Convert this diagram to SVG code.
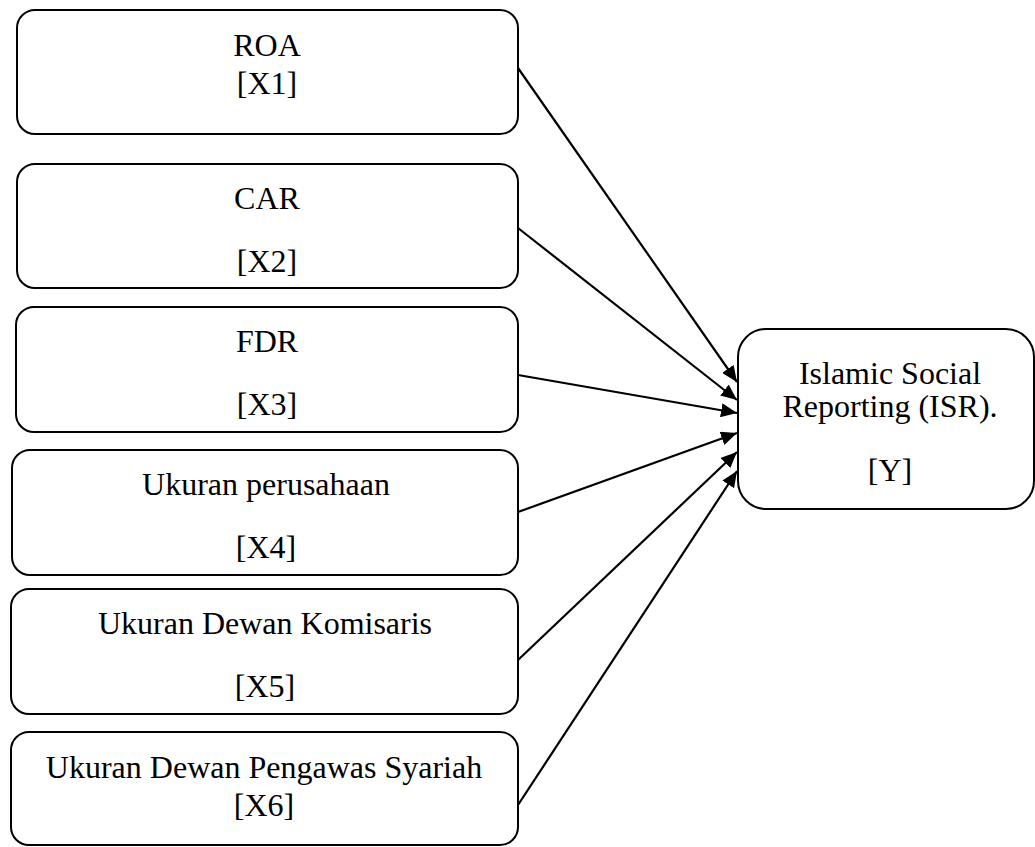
<svg xmlns="http://www.w3.org/2000/svg" width="1035" height="847" viewBox="0 0 1035 847">
<defs>
<style>
.box{fill:#fff;stroke:#000;stroke-width:2}
.t{font-family:"Liberation Serif","Times New Roman",serif;font-size:32px;fill:#000;text-anchor:middle}
.c{stroke:#000;stroke-width:2.2;fill:none}
</style>
<marker id="ah" markerUnits="userSpaceOnUse" markerWidth="18" markerHeight="14" refX="16" refY="7" orient="auto">
<path d="M0,0 L16,7 L0,14 Z" fill="#000"/>
</marker>
</defs>
<rect width="1035" height="847" fill="#fff"/>
<g id="x1"><rect class="box" x="17" y="10" width="501" height="124" rx="18"/><text class="t" x="267" y="56">ROA</text><text class="t" x="267" y="94">[X1]</text></g>
<g id="x2"><rect class="box" x="17" y="164" width="501" height="124" rx="18"/><text class="t" x="267" y="209">CAR</text><text class="t" x="267" y="272">[X2]</text></g>
<g id="x3"><rect class="box" x="16" y="307" width="502" height="125" rx="18"/><text class="t" x="267" y="352">FDR</text><text class="t" x="267" y="415">[X3]</text></g>
<g id="x4"><rect class="box" x="12" y="450" width="506" height="125" rx="18"/><text class="t" x="266" y="495">Ukuran perusahaan</text><text class="t" x="266" y="558">[X4]</text></g>
<g id="x5"><rect class="box" x="11" y="589" width="507" height="125" rx="18"/><text class="t" x="265" y="634">Ukuran Dewan Komisaris</text><text class="t" x="265" y="697">[X5]</text></g>
<g id="x6"><rect class="box" x="11" y="732" width="507" height="113" rx="18"/><text class="t" x="264" y="778">Ukuran Dewan Pengawas Syariah</text><text class="t" x="264" y="816">[X6]</text></g>
<g id="y"><rect class="box" x="738" y="329" width="296" height="180" rx="28"/><text class="t" x="890" y="384">Islamic Social</text><text class="t" x="890" y="417">Reporting (ISR).</text><text class="t" x="890" y="481">[Y]</text></g>
<g id="connectors">
<line class="c" x1="518" y1="68" x2="737" y2="382" marker-end="url(#ah)"/>
<line class="c" x1="518" y1="228" x2="737" y2="400" marker-end="url(#ah)"/>
<line class="c" x1="518" y1="375" x2="737" y2="413" marker-end="url(#ah)"/>
<line class="c" x1="518" y1="512" x2="737" y2="433" marker-end="url(#ah)"/>
<line class="c" x1="518" y1="660" x2="737" y2="452" marker-end="url(#ah)"/>
<line class="c" x1="518" y1="805" x2="737" y2="471" marker-end="url(#ah)"/>
</g>
</svg>
